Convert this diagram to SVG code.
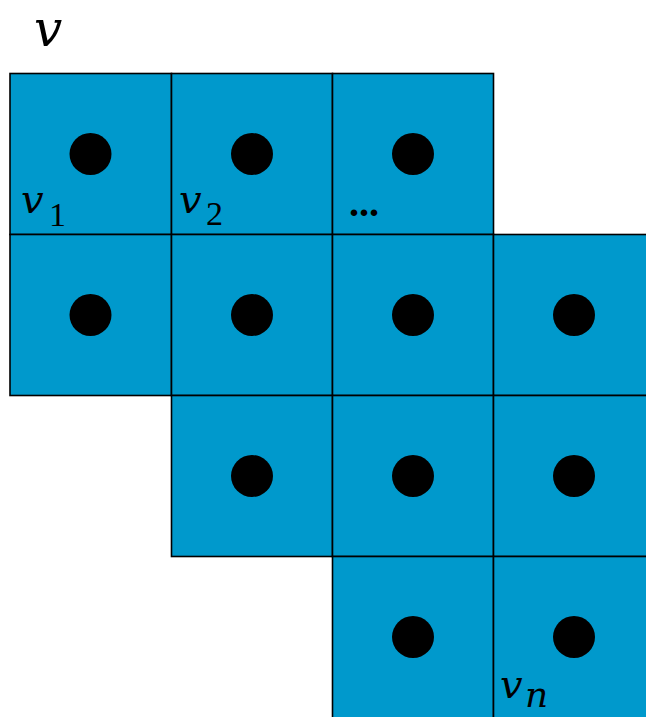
<svg xmlns="http://www.w3.org/2000/svg" width="646" height="717" viewBox="0 0 646 717">
<style>
.cell{fill:#0099cc;stroke:#000;stroke-width:1.6}
.dot{fill:#000}
.m{font-family:"DejaVu Serif","Liberation Serif",serif;font-style:italic;fill:#000}
.sub{font-family:"Liberation Serif","DejaVu Serif",serif;font-style:normal;fill:#000}
</style>
<rect width="646" height="717" fill="#fff"/>
<text class="m" x="34" y="46" font-size="50">v</text>
<g id="cell-0-0"><rect class="cell" x="10" y="73.5" width="161.5" height="161"/><circle class="dot" cx="90.5" cy="154" r="21"/></g>
<g id="cell-0-1"><rect class="cell" x="171.5" y="73.5" width="161" height="161"/><circle class="dot" cx="252" cy="154" r="21"/></g>
<g id="cell-0-2"><rect class="cell" x="332.5" y="73.5" width="161" height="161"/><circle class="dot" cx="413" cy="154" r="21"/></g>
<g id="cell-1-0"><rect class="cell" x="10" y="234.5" width="161.5" height="161"/><circle class="dot" cx="90.5" cy="315" r="21"/></g>
<g id="cell-1-1"><rect class="cell" x="171.5" y="234.5" width="161" height="161"/><circle class="dot" cx="252" cy="315" r="21"/></g>
<g id="cell-1-2"><rect class="cell" x="332.5" y="234.5" width="161" height="161"/><circle class="dot" cx="413" cy="315" r="21"/></g>
<g id="cell-1-3"><rect class="cell" x="493.5" y="234.5" width="161" height="161"/><circle class="dot" cx="574" cy="315" r="21"/></g>
<g id="cell-2-1"><rect class="cell" x="171.5" y="395.5" width="161" height="161"/><circle class="dot" cx="252" cy="476" r="21"/></g>
<g id="cell-2-2"><rect class="cell" x="332.5" y="395.5" width="161" height="161"/><circle class="dot" cx="413" cy="476" r="21"/></g>
<g id="cell-2-3"><rect class="cell" x="493.5" y="395.5" width="161" height="161"/><circle class="dot" cx="574" cy="476" r="21"/></g>
<g id="cell-3-2"><rect class="cell" x="332.5" y="556.5" width="161" height="162"/><circle class="dot" cx="413" cy="637" r="21"/></g>
<g id="cell-3-3"><rect class="cell" x="493.5" y="556.5" width="161" height="162"/><circle class="dot" cx="574" cy="637" r="21"/></g>
<g id="labels">
<text x="21" y="213"><tspan class="m" font-size="40">v</tspan><tspan class="sub" x="49" y="226" font-size="34">1</tspan></text>
<text x="179" y="213"><tspan class="m" font-size="40">v</tspan><tspan class="sub" x="206" y="225" font-size="34">2</tspan></text>
<text class="sub" x="349" y="216" font-size="40" font-weight="bold">...</text>
<text x="500" y="698"><tspan class="m" font-size="40">v</tspan><tspan class="m" x="525" y="707" font-size="36">n</tspan></text>
</g>
</svg>
